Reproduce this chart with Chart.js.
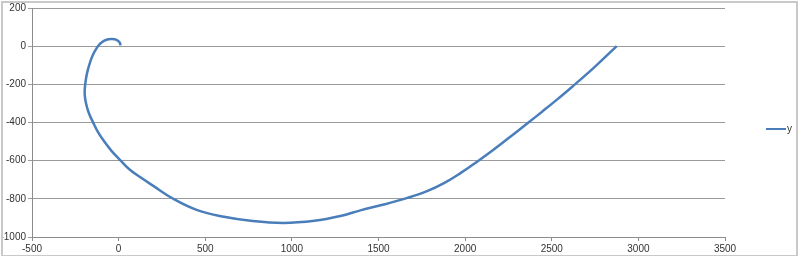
<!DOCTYPE html>
<html>
<head>
<meta charset="utf-8">
<script src="https://cdn.jsdelivr.net/npm/chart.js@4"></script>
<style>
  html, body { margin: 0; padding: 0; background: #fff; }
  #wrap { position: relative; width: 800px; height: 256px; }
  #frame { position: absolute; left: 1px; top: 1px; width: 793px; height: 252px; border: 2px solid #c9c9c9; pointer-events: none; }
  #legend { position: absolute; left: 766px; top: 123px; font: 10px "Liberation Sans", Arial, sans-serif; color: #333; }
  #legend span.sw { display: inline-block; width: 20px; height: 0; border-top: 2.5px solid #4a7ebb; vertical-align: middle; margin-right: 1px; }
</style>
</head>
<body>
<div id="wrap">
  <canvas id="myChart" width="800" height="256"></canvas>
  <div id="frame"></div>
  <div id="legend"><span class="sw"></span>y</div>
</div>
<script>
var seriesName = 'y';
var xValues = [12, 4, -15, -36, -60, -85, -108, -125, -148, -165, -182, -193, -196, -188, -172, -146, -118, -85, -40, 12,
               65, 130, 200, 310, 454, 608, 762, 950, 1130, 1280, 1400, 1530, 1667, 1780, 1878, 1975, 2071, 2150, 2225,
               2360, 2446, 2530, 2620, 2750, 2875];
var yValues = [4, 22, 34, 38, 36, 28, 12, -8, -45, -85, -140, -200, -250, -300, -350, -402, -452, -497, -550, -600,
               -648, -690, -732, -797, -859, -894, -915, -926, -915, -890, -859, -830, -795, -760, -718, -664, -604, -552, -500,
               -404, -342, -280, -211, -107, 0];
var xTicks = [-500, 0, 500, 1000, 1500, 2000, 2500, 3000, 3500];
var yTicks = [-1000, -800, -600, -400, -200, 0, 200];

var points = [];
for (var i in xValues) {
  points.push({ x: xValues[i], y: yValues[i] });
}

var tickFont = { family: '"Liberation Sans", Arial, sans-serif', size: 10 };

var ctx = document.getElementById('myChart').getContext('2d');
var myChart = new Chart(ctx, {
  type: 'scatter',
  data: {
    datasets: [{
      label: seriesName,
      data: points,
      showLine: true,
      borderColor: '#4a7ebb',
      borderWidth: 2.5,
      pointRadius: 0,
      tension: 0.4,
      fill: false
    }]
  },
  options: {
    responsive: false,
    animation: false,
    layout: { padding: { top: 6, right: 75, left: 0, bottom: 0 } },
    plugins: { legend: { display: false }, tooltip: { enabled: false } },
    scales: {
      x: {
        type: 'linear',
        min: xTicks[0],
        max: xTicks[xTicks.length - 1],
        afterBuildTicks: function(s) { s.ticks = xTicks.map(function(v) { return { value: v }; }); },
        afterFit: function(s) { s.height = 19; },
        grid: { drawOnChartArea: false, drawTicks: true, tickLength: 4, color: '#8c8c8c' },
        border: { color: '#8c8c8c' },
        ticks: { padding: 2, maxRotation: 0, autoSkip: false, color: '#333', font: tickFont,
                 callback: function(v) { return String(v); } }
      },
      y: {
        type: 'linear',
        min: yTicks[0],
        max: yTicks[yTicks.length - 1],
        afterBuildTicks: function(s) { s.ticks = yTicks.map(function(v) { return { value: v }; }); },
        afterFit: function(s) { s.width = 32; },
        grid: { color: '#9a9a9a', tickLength: 4 },
        border: { color: '#8c8c8c' },
        ticks: { padding: 2, autoSkip: false, color: '#333', font: tickFont,
                 callback: function(v) { return String(v); } }
      }
    }
  }
});
</script>
</body>
</html>
